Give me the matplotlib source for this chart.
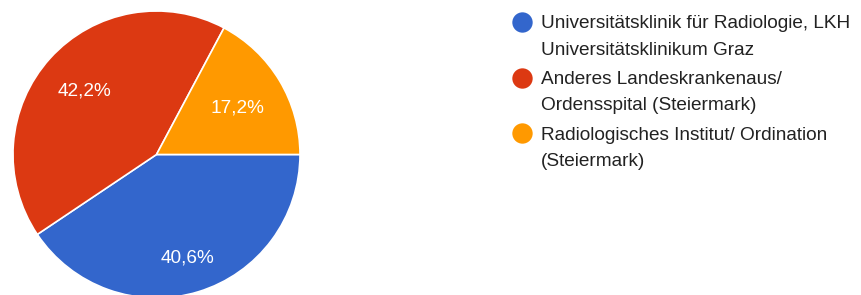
import numpy as np
import matplotlib.pyplot as plt

plt.rcParams['font.family'] = ['Liberation Sans', 'DejaVu Sans']

# Kategorien und Anteile
kategorien = [
    'Universitätsklinik für Radiologie, LKH\nUniversitätsklinikum Graz',
    'Anderes Landeskrankenaus/\nOrdensspital (Steiermark)',
    'Radiologisches Institut/ Ordination\n(Steiermark)',
]
anteile = [40.6, 42.2, 17.2]
farben = ['#3366CC', '#DC3912', '#FF9900']

fig = plt.figure(figsize=(8.61, 2.95), dpi=100)
W, H = 861, 295
# pie centre ~ (156.5, 154.5) px from top-left, radius ~143.5 px
cx, cy, r = 156.5, 154.5, 143.5
ax = fig.add_axes([(cx - r) / W, (H - cy - r) / H, 2 * r / W, 2 * r / H])

wedges, texts, autotexts = ax.pie(
    anteile, colors=farben, startangle=0, counterclock=False,
    autopct=lambda p: f'{p:.1f}%'.replace('.', ','), pctdistance=0.69,
    wedgeprops=dict(edgecolor='white', linewidth=1.2),
    textprops=dict(color='white', fontsize=13.7), radius=1.0,
)
# Google-Charts setzt die Beschriftungen leicht unterschiedlich weit aussen
abstand = [0.74, 0.68, 0.66]
for w, t, d in zip(wedges, autotexts, abstand):
    mid = np.deg2rad((w.theta1 + w.theta2) / 2)
    t.set_position((d * np.cos(mid), d * np.sin(mid)))
    t.set_va('center_baseline')
ax.set_xlim(-1, 1)
ax.set_ylim(-1, 1)
ax.set_aspect('equal')
ax.axis('off')

# Legende von Hand: Punkt auf Hoehe der ersten Zeile
lax = fig.add_axes([0, 0, 1, 1])
lax.set_xlim(0, W)
lax.set_ylim(H, 0)
lax.axis('off')
for i, (name, c) in enumerate(zip(kategorien, farben)):
    y0 = 22 + i * 55.7
    lax.scatter([522], [y0], s=215, color=c, linewidths=0)
    lax.text(541, y0 + 15, name, va='center', ha='left', fontsize=13.7,
             color='#222222', linespacing=1.7)

fig.savefig('out.png', dpi=100)
